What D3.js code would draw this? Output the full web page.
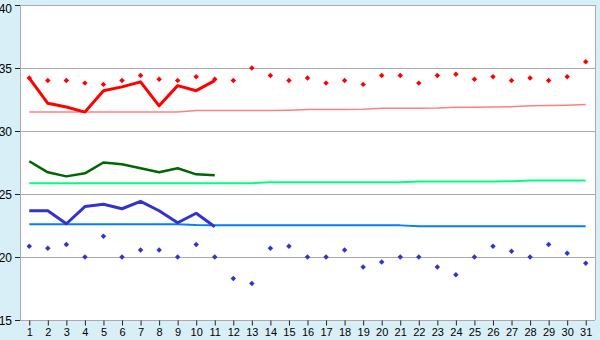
<!DOCTYPE html>
<html>
<head>
<meta charset="utf-8">
<script src="https://cdn.jsdelivr.net/npm/d3@7"></script>
<style>
  body { margin: 0; background: #d9eff7; }
  svg { display: block; }
</style>
</head>
<body>
<div id="chart"></div>
<script>
const days = d3.range(1, 32);

// upper red points and line
const redPoints = [34.2, 34.0, 34.0, 33.8, 33.7, 34.0, 34.4, 34.1, 34.0, 34.3, 34.1,
  34.0, 35.0, 34.4, 34.0, 34.2, 33.8, 34.0, 33.7, 34.4, 34.4, 33.8, 34.4, 34.5,
  34.1, 34.3, 34.0, 34.2, 34.0, 34.3, 35.5];
const redLine = [34.2, 32.2, 31.9, 31.5, 33.2, 33.5, 33.9, 32.0, 33.6, 33.2, 34.0];
const redAvg = [31.5, 31.5, 31.5, 31.5, 31.5, 31.5, 31.5, 31.5, 31.5, 31.62, 31.62,
  31.62, 31.62, 31.62, 31.65, 31.7, 31.7, 31.7, 31.72, 31.8, 31.8, 31.8, 31.82,
  31.88, 31.88, 31.9, 31.92, 32.0, 32.02, 32.05, 32.1];

// middle green lines
const greenLine = [27.6, 26.72, 26.4, 26.64, 27.5, 27.36, 27.04, 26.72, 27.04, 26.56, 26.48];
const greenAvg = [25.85, 25.85, 25.85, 25.85, 25.85, 25.85, 25.85, 25.85, 25.85, 25.85,
  25.85, 25.85, 25.86, 25.93, 25.93, 25.93, 25.93, 25.93, 25.93, 25.93, 25.94,
  26.0, 26.0, 26.0, 26.0, 26.0, 26.02, 26.08, 26.08, 26.08, 26.08];

// lower blue points and line
const blueLine = [23.67, 23.67, 22.64, 24.0, 24.18, 23.83, 24.42, 23.67, 22.72, 23.47, 22.4];
const blueAvg = [22.6, 22.6, 22.6, 22.6, 22.6, 22.6, 22.6, 22.6, 22.6, 22.53, 22.52,
  22.52, 22.52, 22.52, 22.52, 22.52, 22.52, 22.52, 22.52, 22.52, 22.51, 22.44,
  22.44, 22.44, 22.44, 22.44, 22.44, 22.44, 22.44, 22.44, 22.44];
const bluePoints = [20.85, 20.7, 21.0, 20.0, 21.65, 20.0, 20.55, 20.55, 20.0, 21.0, 20.0,
  18.3, 17.9, 20.7, 20.85, 20.0, 20.0, 20.55, 19.2, 19.6, 20.0, 20.0, 19.2, 18.6,
  20.0, 20.85, 20.45, 20.0, 21.0, 20.3, 19.5];

const yTicks = [15, 20, 25, 30, 35, 40];

const width = 600, height = 340;
const margin = { top: 5, right: 5, bottom: 20, left: 20 };

const svg = d3.select('#chart').append('svg')
  .attr('width', width)
  .attr('height', height)
  .style('font-family', 'Arial, "Liberation Sans", sans-serif');

const x = d3.scalePoint()
  .domain(days)
  .range([margin.left, width - margin.right])
  .padding(0.5);

const y = d3.scaleLinear()
  .domain([15, 40])
  .range([height - margin.bottom, margin.top]);

// plot area
svg.append('rect')
  .attr('x', margin.left)
  .attr('y', margin.top)
  .attr('width', width - margin.left - margin.right)
  .attr('height', height - margin.top - margin.bottom)
  .attr('fill', '#fff');

// gridlines
svg.append('g')
  .selectAll('line')
  .data(yTicks)
  .join('line')
  .attr('x1', margin.left)
  .attr('x2', width - margin.right)
  .attr('y1', d => Math.round(y(d)) + 0.5)
  .attr('y2', d => Math.round(y(d)) + 0.5)
  .attr('stroke', '#aaa');

// frame sides
svg.append('line')
  .attr('x1', margin.left + 0.5).attr('x2', margin.left + 0.5)
  .attr('y1', margin.top).attr('y2', height - margin.bottom)
  .attr('stroke', '#aaa');
svg.append('line')
  .attr('x1', width - margin.right + 0.5).attr('x2', width - margin.right + 0.5)
  .attr('y1', margin.top).attr('y2', height - margin.bottom)
  .attr('stroke', '#aaa');

// axes
const xAxis = svg.append('g')
  .attr('transform', `translate(0,${Math.round(y(15)) + 0.5})`)
  .call(d3.axisBottom(x).tickSize(5).tickPadding(3));
xAxis.select('.domain').remove();
xAxis.selectAll('line').attr('stroke', '#222');
xAxis.selectAll('text').attr('font-size', 11).attr('fill', '#000');

const yAxis = svg.append('g')
  .attr('transform', `translate(${margin.left},0)`)
  .call(d3.axisLeft(y).tickValues(yTicks).tickSize(5).tickPadding(3));
yAxis.select('.domain').remove();
yAxis.selectAll('line').attr('stroke', '#222');
yAxis.selectAll('text').attr('font-size', 12).attr('fill', '#000')
  .attr('dy', d => d === 40 ? '0.6em' : '0.35em');

const line = d3.line()
  .x((d, i) => x(days[i]))
  .y(d => y(d));

function drawLine(values, color, w) {
  svg.append('path')
    .datum(values)
    .attr('d', line)
    .attr('fill', 'none')
    .attr('stroke', color)
    .attr('stroke-width', w)
    .attr('stroke-linejoin', 'round');
}

drawLine(redAvg, '#ff8080', 1.5);
drawLine(greenAvg, '#00ff80', 2);
drawLine(blueAvg, '#0080ff', 2);
drawLine(redLine, '#ff0000', 3);
drawLine(greenLine, '#006600', 2.5);
drawLine(blueLine, '#3333cc', 3);

// small square markers turned 45 degrees
const marker = d3.symbol().type(d3.symbolSquare).size(15);

svg.append('g')
  .selectAll('path')
  .data(redPoints)
  .join('path')
  .attr('d', marker)
  .attr('transform', (d, i) => `translate(${x(days[i])},${y(d)}) rotate(45)`)
  .attr('fill', '#ff0000');

svg.append('g')
  .selectAll('path')
  .data(bluePoints)
  .join('path')
  .attr('d', marker)
  .attr('transform', (d, i) => `translate(${x(days[i])},${y(d)}) rotate(45)`)
  .attr('fill', '#3333cc');
</script>
</body>
</html>
